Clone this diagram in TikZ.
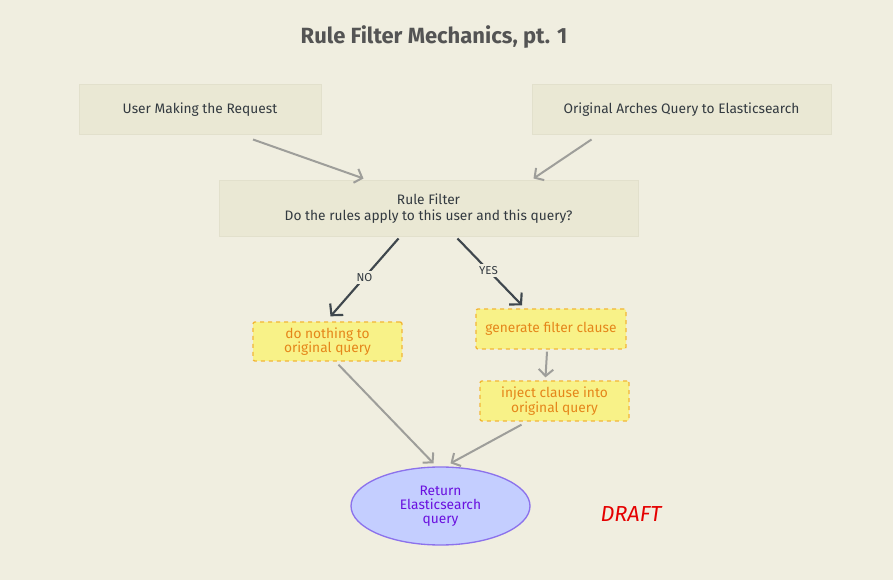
\documentclass[tikz,border=0pt]{standalone}
\usepackage{fontspec}
\setmainfont{Fira Sans}
\usetikzlibrary{arrows.meta,shapes.geometric,calc}

\definecolor{pagebg}{HTML}{F0EEE0}
\definecolor{boxfill}{HTML}{EAE8D4}
\definecolor{boxline}{HTML}{E2E0CC}
\definecolor{boxtext}{HTML}{333A40}
\definecolor{notefill}{HTML}{F8F288}
\definecolor{noteline}{HTML}{F2B637}
\definecolor{notetext}{HTML}{E5861A}
\definecolor{endfill}{HTML}{C4CEFF}
\definecolor{endline}{HTML}{8C72EC}
\definecolor{endtext}{HTML}{6A10DF}
\definecolor{flowgray}{HTML}{9E9E9A}
\definecolor{flowdark}{HTML}{3F474D}

\tikzset{every picture/.style={line width=0.75pt}}
\tikzset{
  plainbox/.style={draw=boxline, fill=boxfill, text=boxtext, font=\fontsize{10.3}{12}\selectfont, align=center, minimum height=37.5pt, inner sep=2pt},
  notebox/.style={draw=noteline, fill=notefill, text=notetext, dashed, line width=1pt, rounded corners=1.5pt, font=\fontsize{10.3}{11}\selectfont, align=center, inner sep=2pt},
  endnode/.style={ellipse, draw=endline, fill=endfill, text=endtext, line width=1pt, font=\fontsize{10.3}{10.6}\selectfont, align=center, minimum width=134.25pt, minimum height=58.5pt, inner sep=0pt},
  flowarrow/.style={draw=flowgray, line width=1.5pt, -{Straight Barb[length=5pt,width=11pt]}},
  decisionarrow/.style={draw=flowdark, line width=1.6pt, -{Straight Barb[length=6pt,width=13pt]}},
  choicelabel/.style={fill=pagebg, text=boxtext, font=\fontsize{8.6}{9}\selectfont, inner sep=2pt},
}

\begin{document}
\begin{tikzpicture}[x=0.75pt,y=0.75pt,yscale=-1,xscale=1]
\fill[pagebg] (0,0) rectangle (893,580);
\useasboundingbox (0,0) rectangle (893,580);

% Title
\node (title) at (434,37) [text=black!67, font=\fontsize{16.5}{18}\selectfont\bfseries] {Rule Filter Mechanics, pt. 1};

% Inputs
\node (user) at (200,110) [plainbox, minimum width=181.5pt] {User Making the Request};
\node (query) at (681.5,110) [plainbox, minimum width=224.25pt] {Original Arches Query to Elasticsearch};

% Rule filter
\node (filter) at (428.5,209) [plainbox, minimum width=314.25pt, minimum height=42pt] {Rule Filter\\Do the rules apply to this user and this query?};

% Branches
\node (nothing) at (327.5,341.5) [notebox, minimum width=111.75pt, minimum height=29.25pt] {do nothing to\\original query};
\node (generate) at (551,329) [notebox, minimum width=112.5pt, minimum height=30pt] {generate filter clause};
\node (inject) at (554.5,401) [notebox, minimum width=111.75pt, minimum height=30pt] {inject clause into\\original query};

% Result
\node (result) at (440.5,506) [endnode] {Return\\Elasticsearch\\query};

\node (draft) at (631,514) [text=red!90!black, font=\fontsize{16.3}{18}\selectfont\itshape] {DRAFT};

% Connectors
\draw[flowarrow] ($(user.south)+(53,4)$) -- ($(filter.north)+(-65,-2)$);
\draw[flowarrow] ($(query.south)+(-90,4)$) -- ($(filter.north)+(105,-2)$);
\draw[decisionarrow] ($(filter.south)+(-30,1)$) -- node[choicelabel, pos=0.5] {NO} ($(nothing.north)+(3,-5)$);
\draw[decisionarrow] ($(filter.south)+(29,1)$) -- node[choicelabel, pos=0.48] {YES} ($(generate.north)+(-29,-3)$);
\draw[flowarrow] ($(generate.south)+(-4,2)$) -- ($(inject.north)+(-9,-3)$);
\draw[flowarrow] ($(nothing.south)+(11,3)$) -- ($(result.north)+(-7,-3)$);
\draw[flowarrow] ($(inject.south)+(-33,3)$) -- ($(result.north)+(10,-3)$);

\end{tikzpicture}
\end{document}
